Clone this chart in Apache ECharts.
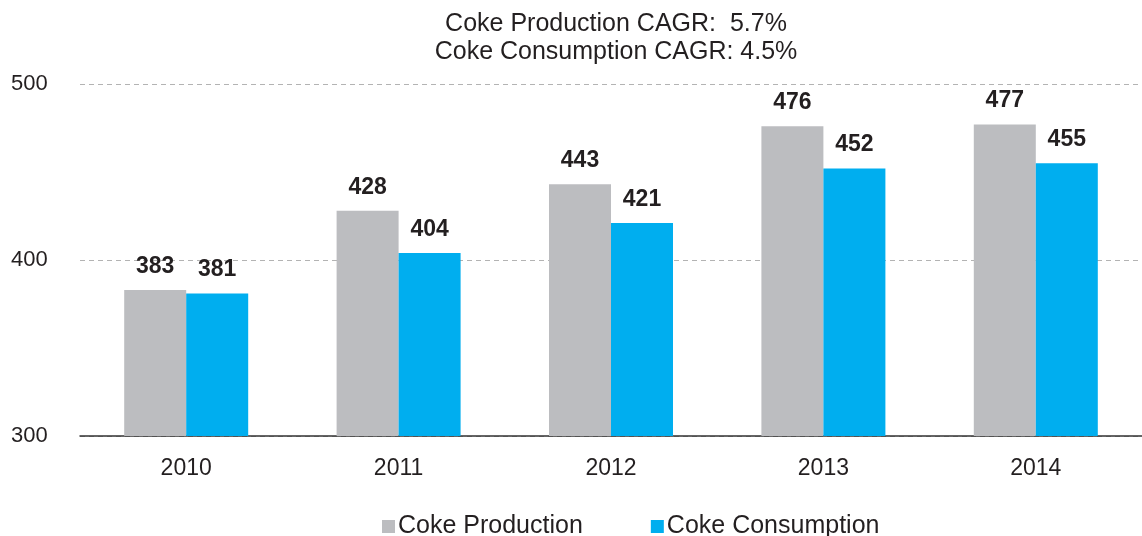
<!DOCTYPE html>
<html>
<head>
<meta charset="utf-8">
<script src="https://cdn.jsdelivr.net/npm/echarts@6/dist/echarts.min.js"></script>
<style>
  html, body { margin: 0; padding: 0; background: #fff; }
  #chart { width: 1142px; height: 536px; }
</style>
</head>
<body>
<div id="chart"></div>
<script>
const years = ['2010', '2011', '2012', '2013', '2014']
const production = [383, 428, 443, 476, 477]
const consumption = [381, 404, 421, 452, 455]
const yTicks = [300, 400, 500]

const font = '"Liberation Sans", Arial, sans-serif'
const dark = '#231f20'

const chart = echarts.init(document.getElementById('chart'))

function valueLabel() {
  return {
    show: true,
    position: 'top',
    distance: 12,
    fontSize: 23,
    fontWeight: 'bold',
    color: dark,
    fontFamily: font
  }
}

chart.setOption({
  animation: false,
  textStyle: { fontFamily: font },
  title: {
    text: 'Coke Production CAGR:  5.7%\nCoke Consumption CAGR: 4.5%',
    left: 611,
    textAlign: 'center',
    top: 5,
    textStyle: { fontSize: 25, fontWeight: 'normal', color: dark, lineHeight: 28, fontFamily: font }
  },
  legend: {
    top: 514,
    left: 382,
    padding: 0,
    itemWidth: 13,
    itemHeight: 13,
    itemGap: 68,
    icon: 'rect',
    textStyle: { fontSize: 25, color: dark, fontFamily: font, padding: [0, 0, 0, -2] },
    data: ['Coke Production', 'Coke Consumption']
  },
  grid: {
    left: 80,
    right: 0,
    top: 84,
    bottom: 100
  },
  xAxis: {
    type: 'category',
    data: years,
    axisLine: { lineStyle: { color: '#333', width: 1.5 } },
    axisTick: { show: false },
    axisLabel: { fontSize: 23, color: dark, margin: 21, fontFamily: font }
  },
  yAxis: {
    type: 'value',
    min: yTicks[0],
    max: yTicks[yTicks.length - 1],
    interval: 100,
    axisLine: { show: false },
    axisTick: { show: false },
    axisLabel: { fontSize: 22, color: dark, margin: 30, align: 'left', padding: [0, 0, 0, -39], fontFamily: font },
    splitLine: {
      lineStyle: { type: [5, 4], color: '#b3b3b3', width: 1 }
    }
  },
  series: [
    {
      name: 'Coke Production',
      type: 'bar',
      data: production,
      barWidth: 62,
      barGap: '0%',
      itemStyle: { color: '#bcbdc0' },
      label: valueLabel()
    },
    {
      name: 'Coke Consumption',
      type: 'bar',
      data: consumption,
      barWidth: 62,
      barGap: '0%',
      itemStyle: { color: '#00aeef' },
      label: valueLabel()
    }
  ]
})
</script>
</body>
</html>
